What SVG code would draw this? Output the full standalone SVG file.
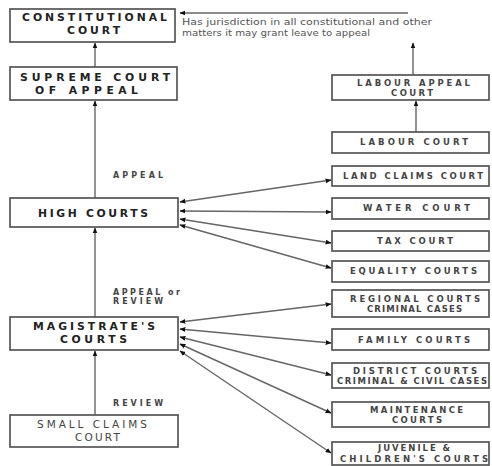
<svg xmlns="http://www.w3.org/2000/svg" width="492" height="466" viewBox="0 0 492 466">
<style>
.box{fill:#fff;stroke:#555;stroke-width:1.7}
.L{font-family:"DejaVu Sans","Liberation Sans",sans-serif;font-weight:bold;font-size:10.8px;fill:#222}
.R{font-family:"DejaVu Sans","Liberation Sans",sans-serif;font-weight:bold;font-size:8.5px;fill:#444}
.S{font-family:"DejaVu Sans","Liberation Sans",sans-serif;font-size:10.5px;fill:#444}
.lab{font-family:"DejaVu Sans","Liberation Sans",sans-serif;font-weight:bold;font-size:8px;fill:#444}
.note{font-family:"DejaVu Sans","Liberation Sans",sans-serif;font-size:8px;fill:#555}
.c{fill:none;stroke:#666;stroke-width:1.4}
</style>
<defs>
<marker id="ah" viewBox="0 0 10 10" refX="9" refY="5" markerWidth="6" markerHeight="6" markerUnits="userSpaceOnUse" orient="auto-start-reverse">
<path d="M0,1 L10,5 L0,9 Z" fill="#111"/>
</marker>
</defs>
<rect width="492" height="466" fill="#fff"/>
<g id="connectors">
<line class="c" x1="408" y1="13" x2="180" y2="13" marker-end="url(#ah)"/>
<line class="c" x1="95" y1="67" x2="95" y2="43" marker-end="url(#ah)"/>
<line class="c" x1="95" y1="198" x2="95" y2="101" marker-end="url(#ah)"/>
<line class="c" x1="95" y1="317" x2="95" y2="228" marker-end="url(#ah)"/>
<line class="c" x1="95" y1="415" x2="95" y2="351" marker-end="url(#ah)"/>
<line class="c" x1="416" y1="132" x2="416" y2="101" marker-end="url(#ah)"/>
<line class="c" x1="413" y1="75" x2="413" y2="43" marker-end="url(#ah)"/>
<line class="c" x1="180" y1="202" x2="331" y2="180" marker-start="url(#ah)" marker-end="url(#ah)"/>
<line class="c" x1="180" y1="211" x2="331" y2="212" marker-start="url(#ah)" marker-end="url(#ah)"/>
<line class="c" x1="180" y1="219" x2="331" y2="243" marker-start="url(#ah)" marker-end="url(#ah)"/>
<line class="c" x1="180" y1="225" x2="331" y2="268" marker-start="url(#ah)" marker-end="url(#ah)"/>
<line class="c" x1="180" y1="322" x2="331" y2="304" marker-start="url(#ah)" marker-end="url(#ah)"/>
<line class="c" x1="180" y1="329" x2="331" y2="343" marker-start="url(#ah)" marker-end="url(#ah)"/>
<line class="c" x1="180" y1="337" x2="331" y2="375" marker-start="url(#ah)" marker-end="url(#ah)"/>
<line class="c" x1="180" y1="344" x2="331" y2="413" marker-start="url(#ah)" marker-end="url(#ah)"/>
<line class="c" x1="180" y1="351" x2="331" y2="453" marker-start="url(#ah)" marker-end="url(#ah)"/>
</g>
<g id="labels">
<text class="note" x="182" y="25" textLength="250" lengthAdjust="spacingAndGlyphs">Has jurisdiction in all constitutional and other</text>
<text class="note" x="182" y="36" textLength="188" lengthAdjust="spacingAndGlyphs">matters it may grant leave to appeal</text>
<text class="lab" x="113" y="178" textLength="50" lengthAdjust="spacing">APPEAL</text>
<text class="lab" x="113" y="295" textLength="67" lengthAdjust="spacing">APPEAL or</text>
<text class="lab" x="113" y="304" textLength="50" lengthAdjust="spacing">REVIEW</text>
<text class="lab" x="113" y="406" textLength="50" lengthAdjust="spacing">REVIEW</text>
</g>
<g id="constitutional">
<rect class="box" x="10" y="9" width="165" height="33"/>
<text class="L" x="22" y="21" textLength="145" lengthAdjust="spacing">CONSTITUTIONAL</text>
<text class="L" x="67" y="34" textLength="53" lengthAdjust="spacing">COURT</text>
</g>
<g id="supreme">
<rect class="box" x="10" y="67" width="167" height="33"/>
<text class="L" x="20" y="81" textLength="150" lengthAdjust="spacing">SUPREME COURT</text>
<text class="L" x="35" y="94" textLength="103" lengthAdjust="spacing">OF APPEAL</text>
</g>
<g id="high">
<rect class="box" x="10" y="198" width="168" height="29"/>
<text class="L" x="38" y="217" textLength="110" lengthAdjust="spacing" font-size="12">HIGH COURTS</text>
</g>
<g id="magistrate">
<rect class="box" x="10" y="317" width="168" height="33"/>
<text class="L" x="33" y="329.5" textLength="122" lengthAdjust="spacing">MAGISTRATE'S</text>
<text class="L" x="60" y="343" textLength="67" lengthAdjust="spacing">COURTS</text>
</g>
<g id="smallclaims">
<rect class="box" x="10" y="415" width="168" height="32"/>
<text class="S" x="37" y="428" textLength="110" lengthAdjust="spacing">SMALL CLAIMS</text>
<text class="S" x="75" y="440.5" textLength="45" lengthAdjust="spacing">COURT</text>
</g>
<g id="labourappeal">
<rect class="box" x="332" y="75" width="157" height="25"/>
<text class="R" x="357" y="86" textLength="113" lengthAdjust="spacing">LABOUR APPEAL</text>
<text class="R" x="391" y="96" textLength="42" lengthAdjust="spacing">COURT</text>
</g>
<g id="labour">
<rect class="box" x="332" y="132" width="157" height="21"/>
<text class="R" x="360" y="145" textLength="108" lengthAdjust="spacing">LABOUR COURT</text>
</g>
<g id="landclaims">
<rect class="box" x="332" y="166" width="157" height="20"/>
<text class="R" x="343" y="179" textLength="140" lengthAdjust="spacing">LAND CLAIMS COURT</text>
</g>
<g id="water">
<rect class="box" x="332" y="198" width="157" height="21"/>
<text class="R" x="363" y="211" textLength="107" lengthAdjust="spacing">WATER COURT</text>
</g>
<g id="tax">
<rect class="box" x="332" y="231" width="157" height="20"/>
<text class="R" x="377" y="244" textLength="76" lengthAdjust="spacing">TAX COURT</text>
</g>
<g id="equality">
<rect class="box" x="332" y="261" width="157" height="21"/>
<text class="R" x="350" y="274" textLength="127" lengthAdjust="spacing">EQUALITY COURTS</text>
</g>
<g id="regional">
<rect class="box" x="332" y="290" width="157" height="27"/>
<text class="R" x="350" y="302" textLength="130" lengthAdjust="spacing">REGIONAL COURTS</text>
<text class="R" x="367" y="312" textLength="95" lengthAdjust="spacing" font-size="7">CRIMINAL CASES</text>
</g>
<g id="family">
<rect class="box" x="332" y="329" width="157" height="21"/>
<text class="R" x="358" y="343" textLength="112" lengthAdjust="spacing">FAMILY COURTS</text>
</g>
<g id="district">
<rect class="box" x="332" y="363" width="157" height="25"/>
<text class="R" x="353" y="374" textLength="124" lengthAdjust="spacing">DISTRICT COURTS</text>
<text class="R" x="337" y="384" textLength="150" lengthAdjust="spacing" font-size="7.5">CRIMINAL &amp; CIVIL CASES</text>
</g>
<g id="maintenance">
<rect class="box" x="332" y="402" width="157" height="25"/>
<text class="R" x="370" y="413" textLength="93" lengthAdjust="spacing">MAINTENANCE</text>
<text class="R" x="392" y="423" textLength="50" lengthAdjust="spacing">COURTS</text>
</g>
<g id="juvenile">
<rect class="box" x="332" y="442" width="157" height="23"/>
<text class="R" x="378" y="451" textLength="72" lengthAdjust="spacing">JUVENILE &amp;</text>
<text class="R" x="340" y="462" textLength="148" lengthAdjust="spacing">CHILDREN'S COURTS</text>
</g>
</svg>
